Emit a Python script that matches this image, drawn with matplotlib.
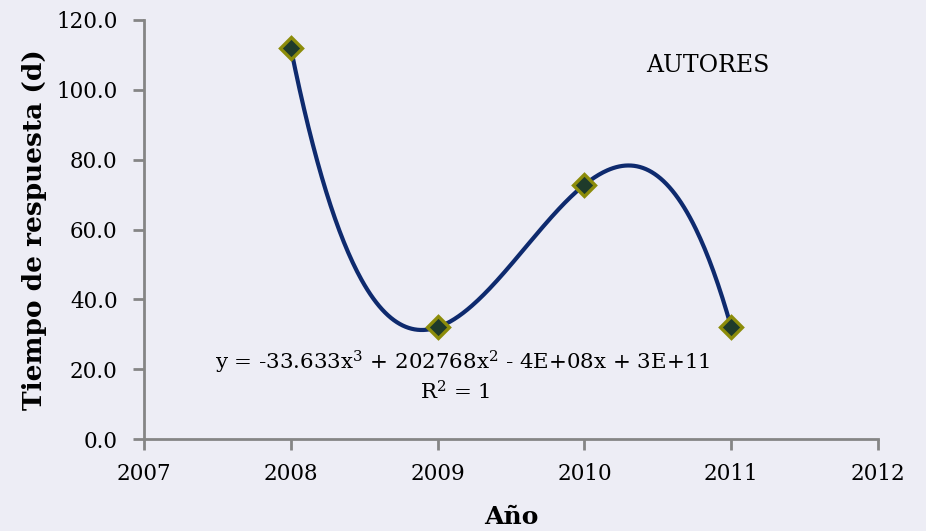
import numpy as np
import matplotlib
matplotlib.use("Agg")
import matplotlib.pyplot as plt

years = [2008, 2009, 2010, 2011]
tiempo = [112.0, 32.0, 72.8, 32.0]
x_ticks = [2007, 2008, 2009, 2010, 2011, 2012]
y_ticks = [0, 20, 40, 60, 80, 100, 120]
equation = "y = -33.633x$^3$ + 202768x$^2$ - 4E+08x + 3E+11"
r2_text = "R$^2$ = 1"

bg = "#EDEDF5"
plt.rcParams['font.family'] = ['DejaVu Serif']
plt.rcParams['mathtext.fontset'] = 'dejavuserif'

fig = plt.figure(figsize=(9.26, 5.31), dpi=100, facecolor=bg)
ax = fig.add_axes([144/926, 1-439/531, (878-144)/926, (439-20)/531])
ax.set_facecolor(bg)

# cubic trendline through the points (drawn over the data range)
coef = np.polyfit(np.array(years) - 2008, tiempo, 3)
xs = np.linspace(2008, 2011, 300)
ys = np.polyval(coef, xs - 2008)
ax.plot(xs, ys, color="#0E2A6E", lw=3, zorder=2)
ax.plot(years, tiempo, linestyle="none", marker="D", markersize=11.5,
        markerfacecolor="#1F3B2B", markeredgecolor="#8C8C0A", markeredgewidth=2.4, zorder=3)

ax.set_xlim(2007, 2012)
ax.set_ylim(0, 120)
ax.set_xticks(x_ticks)
ax.set_yticks(y_ticks)
ax.set_yticklabels([f"{v:.1f}" for v in y_ticks])
for s in ["top", "right"]:
    ax.spines[s].set_visible(False)
for s in ["left", "bottom"]:
    ax.spines[s].set_color("#858585")
    ax.spines[s].set_linewidth(2)
ax.tick_params(axis="both", direction="out", length=8, width=2, color="#858585",
               labelsize=15.5, labelcolor="black")
ax.tick_params(axis="x", pad=9)
ax.tick_params(axis="y", pad=11)

ax.set_xlabel("Año", fontsize=18, fontweight="bold", labelpad=15)
ax.set_ylabel("Tiempo de respuesta (d)", fontsize=19, fontweight="bold", labelpad=7)

ax.text(2009.17, 22, equation, fontsize=15.4, ha="center", va="center")
ax.text(2009.12, 13.5, r2_text, fontsize=15.4, ha="center", va="center")
ax.text(2010.84, 107, "AUTORES", fontsize=17, ha="center", va="center")

fig.savefig("out.png", dpi=100, facecolor=bg)
